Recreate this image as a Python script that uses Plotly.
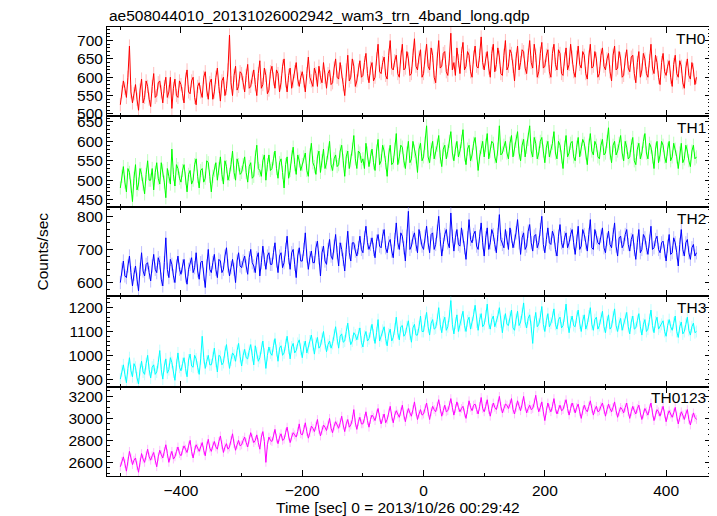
import plotly.graph_objects as go

T_START = -500
T_STEP = 2.5

th0 = [525, 560, 590, 570, 545, 600, 685, 560, 530, 555, 580, 540, 510, 565, 595, 530, 545, 590, 575, 540,
       520, 575, 610, 545, 550, 585, 590, 560, 530, 575, 600, 545, 560, 600, 515, 570, 595, 550, 545, 590,
       580, 555, 530, 595, 620, 560, 555, 590, 600, 545, 525, 575, 585, 560, 545, 600, 615, 565, 540, 585,
       595, 540, 560, 600, 625, 575, 535, 590, 600, 550, 570, 620, 715, 585, 550, 605, 630, 565, 575, 615,
       610, 585, 560, 605, 635, 570, 575, 600, 620, 580, 550, 610, 645, 570, 580, 625, 605, 555, 565, 615,
       630, 595, 570, 620, 610, 560, 585, 630, 650, 590, 560, 605, 625, 570, 590, 615, 640, 595, 575, 600,
       615, 590, 560, 610, 655, 600, 590, 575, 625, 610, 575, 630, 600, 585, 640, 600, 570, 610, 620, 580,
       585, 625, 650, 600, 595, 640, 615, 580, 550, 620, 660, 590, 600, 650, 630, 575, 590, 620, 645, 600,
       605, 640, 665, 610, 585, 625, 640, 590, 600, 650, 690, 615, 610, 640, 655, 605, 595, 660, 700, 625,
       620, 645, 660, 610, 600, 655, 690, 620, 625, 670, 650, 605, 610, 660, 705, 630, 620, 655, 675, 600,
       610, 655, 690, 630, 620, 680, 660, 600, 585, 650, 700, 625, 630, 665, 670, 615, 605, 650, 720, 620,
       640, 605, 680, 645, 610, 665, 695, 620, 630, 670, 660, 615, 600, 655, 685, 630, 625, 660, 710, 640,
       620, 650, 670, 625, 600, 665, 690, 615, 635, 680, 655, 610, 605, 660, 700, 620, 630, 675, 665, 630,
       590, 650, 685, 620, 640, 675, 670, 625, 610, 660, 700, 640, 625, 690, 660, 600, 615, 665, 695, 625,
       630, 660, 675, 615, 600, 665, 690, 635, 620, 675, 665, 610, 605, 650, 680, 620, 635, 690, 655, 615,
       600, 655, 685, 635, 625, 670, 660, 610, 595, 655, 690, 625, 630, 670, 650, 600, 610, 660, 680, 630,
       620, 650, 665, 615, 590, 660, 685, 620, 625, 670, 650, 600, 605, 650, 675, 625, 615, 655, 660, 610,
       585, 640, 670, 600, 620, 665, 650, 610, 600, 645, 690, 625, 610, 660, 640, 600, 580, 640, 665, 615,
       605, 630, 645, 600, 575, 635, 660, 610, 600, 645, 630, 585, 570, 625, 650, 605, 595, 640, 620, 580,
       600]

th1 = [480, 510, 535, 495, 470, 530, 520, 485, 445, 505, 540, 475, 490, 530, 515, 490, 465, 515, 550, 500,
       500, 530, 475, 520, 545, 505, 490, 545, 525, 495, 455, 530, 510, 490, 580, 515, 485, 540, 530, 505,
       495, 525, 540, 505, 470, 515, 525, 490, 500, 540, 555, 510, 480, 525, 530, 495, 505, 550, 545, 510,
       470, 510, 525, 545, 500, 530, 560, 515, 490, 550, 535, 500, 515, 540, 575, 520, 500, 555, 540, 515,
       520, 540, 560, 520, 495, 535, 545, 505, 510, 560, 590, 530, 525, 510, 550, 565, 500, 540, 565, 525,
       530, 555, 575, 530, 505, 545, 555, 520, 480, 540, 560, 505, 525, 560, 585, 540, 515, 565, 550, 525,
       540, 560, 570, 525, 510, 565, 595, 545, 535, 515, 560, 575, 520, 550, 580, 530, 545, 570, 600, 540,
       525, 555, 565, 535, 540, 575, 590, 550, 510, 560, 575, 530, 550, 580, 615, 555, 530, 575, 570, 545,
       555, 530, 595, 570, 535, 560, 580, 545, 525, 575, 605, 540, 550, 590, 575, 545, 510, 565, 590, 540,
       545, 580, 620, 540, 560, 590, 585, 550, 530, 570, 600, 545, 555, 600, 575, 560, 520, 580, 595, 550,
       560, 595, 640, 560, 545, 580, 600, 555, 570, 590, 615, 560, 535, 580, 590, 555, 575, 600, 625, 570,
       550, 580, 600, 560, 575, 600, 630, 565, 540, 580, 590, 550, 565, 595, 610, 570, 525, 560, 585, 600,
       560, 590, 620, 555, 575, 600, 595, 560, 545, 580, 640, 565, 570, 590, 600, 570, 555, 595, 615, 560,
       580, 600, 625, 570, 550, 590, 605, 560, 585, 605, 640, 575, 560, 610, 595, 555, 570, 600, 610, 575,
       545, 585, 600, 560, 575, 595, 625, 570, 555, 600, 590, 560, 530, 585, 615, 560, 570, 595, 600, 560,
       550, 585, 610, 560, 580, 605, 595, 570, 540, 590, 620, 575, 565, 600, 590, 560, 555, 590, 605, 565,
       570, 600, 635, 570, 545, 590, 600, 565, 575, 595, 615, 570, 550, 600, 585, 555, 560, 590, 610, 550,
       540, 580, 595, 555, 570, 600, 620, 570, 555, 595, 585, 560, 530, 580, 600, 545, 565, 600, 590, 560,
       545, 580, 600, 550, 560, 595, 580, 560, 530, 570, 595, 545, 555, 590, 575, 550, 535, 575, 590, 555,
       560]

th2 = [600, 640, 665, 620, 615, 650, 680, 630, 590, 625, 650, 610, 575, 640, 690, 635, 620, 655, 660, 630,
       605, 650, 685, 640, 630, 675, 660, 610, 590, 660, 735, 640, 615, 670, 655, 620, 600, 650, 680, 640,
       625, 650, 670, 620, 595, 640, 655, 675, 630, 645, 690, 635, 610, 660, 665, 625, 585, 650, 700, 640,
       630, 660, 685, 640, 615, 670, 665, 630, 640, 680, 705, 650, 620, 645, 670, 640, 600, 665, 690, 650,
       645, 665, 680, 650, 625, 675, 700, 660, 650, 630, 675, 690, 620, 660, 710, 670, 640, 680, 690, 655,
       655, 690, 720, 665, 630, 680, 690, 645, 660, 700, 740, 675, 640, 690, 700, 655, 615, 680, 705, 665,
       665, 700, 750, 680, 640, 675, 695, 660, 660, 705, 725, 675, 620, 690, 710, 665, 655, 700, 730, 680,
       670, 710, 745, 690, 650, 720, 700, 670, 635, 700, 755, 690, 665, 720, 720, 695, 680, 705, 740, 700,
       690, 735, 770, 720, 700, 715, 735, 700, 675, 725, 745, 710, 705, 740, 760, 705, 690, 720, 730, 695,
       675, 730, 780, 720, 700, 750, 740, 705, 665, 740, 815, 700, 710, 735, 750, 715, 690, 760, 735, 710,
       700, 740, 770, 720, 690, 745, 750, 700, 715, 755, 800, 730, 680, 715, 745, 760, 720, 705, 810, 740,
       695, 735, 760, 715, 710, 765, 740, 705, 670, 735, 790, 730, 720, 745, 755, 710, 700, 740, 780, 720,
       680, 735, 765, 700, 720, 760, 745, 715, 690, 745, 805, 730, 715, 705, 760, 735, 700, 765, 740, 705,
       725, 750, 790, 720, 685, 735, 750, 700, 710, 755, 775, 720, 695, 740, 745, 705, 720, 760, 800, 715,
       690, 730, 765, 720, 715, 755, 740, 700, 680, 740, 775, 720, 705, 735, 750, 705, 720, 745, 760, 720,
       685, 725, 770, 700, 710, 760, 745, 720, 695, 745, 790, 705, 700, 760, 735, 720, 715, 740, 765, 705,
       690, 730, 755, 715, 705, 745, 780, 710, 680, 735, 740, 705, 715, 745, 760, 715, 695, 730, 745, 700,
       670, 720, 760, 690, 700, 745, 735, 705, 685, 725, 770, 700, 705, 730, 740, 700, 690, 720, 725, 695,
       665, 710, 745, 685, 690, 735, 720, 690, 650, 715, 760, 700, 680, 720, 730, 690, 670, 705, 715, 680,
       690]

th3 = [900, 935, 960, 920, 885, 945, 990, 935, 910, 965, 950, 905, 880, 940, 975, 930, 920, 965, 1000, 940,
       905, 950, 960, 920, 930, 970, 1020, 940, 900, 955, 985, 925, 940, 990, 970, 930, 895, 960, 1010, 950,
       935, 965, 990, 945, 910, 980, 1005, 955, 950, 1000, 985, 950, 920, 985, 1080, 990, 945, 975, 1000, 960,
       960, 990, 1030, 975, 930, 1000, 995, 960, 970, 1015, 1045, 990, 945, 980, 1010, 1000, 975, 1020, 1050, 995,
       955, 1000, 1025, 990, 985, 1020, 1045, 1000, 960, 1040, 1010, 975, 990, 1030, 1060, 1005, 945, 1000, 1035, 1010,
       1000, 1040, 1070, 1020, 975, 1030, 1040, 1000, 1010, 1045, 1080, 1030, 985, 1035, 1050, 1010, 1020, 1050, 1065, 1025,
       990, 1035, 1060, 1010, 1030, 1060, 1085, 1045, 1005, 1050, 1075, 1030, 1040, 1070, 1100, 1050, 1015, 1045, 1060, 1030,
       1050, 1085, 1120, 1070, 1030, 1080, 1090, 1055, 1060, 1100, 1135, 1080, 1045, 1060, 1095, 1085, 1065, 1090, 1115, 1055,
       1035, 1080, 1100, 1060, 1070, 1100, 1130, 1085, 1050, 1095, 1150, 1060, 1080, 1105, 1120, 1070, 1040, 1090, 1110, 1060,
       1075, 1110, 1160, 1095, 1065, 1120, 1125, 1080, 1090, 1120, 1145, 1090, 1055, 1115, 1130, 1085, 1085, 1120, 1165, 1100,
       1100, 1145, 1180, 1120, 1085, 1135, 1150, 1110, 1115, 1150, 1200, 1130, 1095, 1140, 1160, 1105, 1120, 1165, 1230, 1130,
       1090, 1135, 1170, 1100, 1125, 1150, 1185, 1125, 1100, 1145, 1160, 1110, 1135, 1170, 1210, 1140, 1105, 1150, 1175, 1120,
       1130, 1165, 1215, 1135, 1110, 1150, 1165, 1120, 1140, 1165, 1200, 1140, 1095, 1145, 1175, 1130, 1125, 1160, 1190, 1115,
       1105, 1150, 1185, 1125, 1140, 1175, 1220, 1140, 1115, 1155, 1170, 1120, 1050, 1140, 1180, 1120, 1130, 1160, 1205, 1130,
       1100, 1145, 1175, 1120, 1135, 1160, 1195, 1130, 1110, 1150, 1160, 1115, 1125, 1165, 1215, 1140, 1095, 1140, 1165, 1125,
       1120, 1160, 1190, 1135, 1100, 1145, 1170, 1110, 1130, 1165, 1200, 1130, 1105, 1150, 1160, 1110, 1125, 1155, 1185, 1120,
       1095, 1140, 1170, 1110, 1120, 1160, 1195, 1125, 1100, 1135, 1155, 1105, 1130, 1155, 1180, 1120, 1090, 1140, 1165, 1110,
       1115, 1145, 1175, 1120, 1085, 1130, 1150, 1100, 1110, 1150, 1190, 1125, 1095, 1140, 1160, 1110, 1120, 1130, 1145, 1100,
       1080, 1125, 1150, 1120, 1105, 1135, 1165, 1100, 1075, 1120, 1140, 1090, 1100, 1130, 1160, 1105, 1085, 1120, 1135, 1095,
       1100]

th0123 = [2560, 2610, 2650, 2590, 2520, 2610, 2700, 2640, 2580, 2620, 2640, 2570, 2510, 2600, 2680, 2630, 2600, 2660, 2720, 2650,
          2620, 2660, 2690, 2620, 2560, 2650, 2710, 2670, 2640, 2700, 2760, 2680, 2600, 2660, 2700, 2630, 2650, 2700, 2740, 2680,
          2660, 2710, 2750, 2720, 2690, 2750, 2800, 2700, 2640, 2710, 2760, 2730, 2700, 2740, 2780, 2710, 2660, 2750, 2810, 2730,
          2700, 2750, 2790, 2740, 2720, 2790, 2840, 2760, 2690, 2740, 2770, 2720, 2740, 2800, 2860, 2770, 2710, 2760, 2800, 2750,
          2760, 2800, 2830, 2780, 2740, 2810, 2870, 2820, 2780, 2800, 2850, 2780, 2720, 2830, 2880, 2790, 2600, 2760, 2830, 2800,
          2790, 2840, 2900, 2820, 2770, 2830, 2860, 2800, 2810, 2870, 2920, 2840, 2780, 2830, 2870, 2850, 2830, 2880, 2950, 2860,
          2850, 2900, 2960, 2880, 2820, 2870, 2930, 2910, 2880, 2930, 2990, 2900, 2840, 2890, 2940, 2920, 2890, 2940, 3000, 2910,
          2870, 2930, 2970, 2940, 2910, 2960, 3020, 2940, 2880, 2950, 2990, 2920, 2940, 2990, 3080, 2960, 2900, 2970, 3010, 2950,
          2950, 3000, 3060, 2980, 2920, 2990, 3030, 3010, 2980, 3040, 3090, 3010, 2950, 3000, 3040, 2960, 2990, 3050, 3110, 3020,
          2960, 3030, 3070, 3040, 3010, 3060, 3120, 3030, 2970, 3040, 3090, 3050, 3020, 3080, 3150, 3060, 2990, 3040, 3080, 3030,
          3040, 3090, 3140, 3060, 2990, 3060, 3110, 3080, 3060, 3110, 3170, 3090, 3020, 3070, 3120, 3060, 3070, 3120, 3180, 3100,
          3030, 3090, 3150, 3100, 3060, 3090, 3110, 3050, 3000, 3080, 3160, 3100, 3070, 3120, 3130, 3080, 3040, 3110, 3190, 3090,
          3060, 3110, 3170, 3080, 3020, 3090, 3140, 3100, 3080, 3130, 3200, 3110, 3050, 3090, 3130, 3120, 3090, 3130, 3180, 3080,
          3040, 3100, 3160, 3110, 3070, 3130, 3200, 3110, 3050, 3090, 3120, 3080, 3090, 3140, 3210, 3120, 3060, 3100, 3150, 3060,
          2980, 3070, 3140, 3090, 3060, 3110, 3180, 3090, 3040, 3080, 3120, 3070, 3080, 3130, 3170, 3090, 3030, 3090, 3140, 3100,
          3050, 3100, 3130, 3060, 3000, 3070, 3120, 3080, 3060, 3110, 3160, 3090, 3030, 3080, 3110, 3060, 3070, 3110, 3140, 3080,
          3020, 3080, 3130, 3090, 3060, 3100, 3150, 3070, 3010, 3060, 3100, 3080, 3050, 3100, 3140, 3060, 3000, 3060, 3110, 3070,
          3040, 3090, 3120, 3050, 2990, 3040, 3090, 3060, 3030, 3090, 3140, 3050, 2980, 3030, 3080, 3060, 3020, 3070, 3110, 3040,
          2970, 3030, 3070, 3040, 3010, 3050, 3100, 3020, 2950, 3010, 3060, 3030, 2990, 3040, 3080, 2990, 2940, 3000, 3050, 3010,
          2990]

series_names = ["TH0", "TH1", "TH2", "TH3", "TH0123"]
series_values = [th0, th1, th2, th3, th0123]
series_colors = ["#ff0000", "#00ff00", "#0000ff", "#00ffff", "#ff00ff"]
error_colors = ["rgba(255,110,110,0.45)", "rgba(110,255,110,0.45)", "rgba(110,110,255,0.45)",
                "rgba(110,255,255,0.45)", "rgba(255,110,255,0.45)"]
error_sizes = [18, 17, 20, 25, 40]
y_ranges = [[493, 737], [431, 664], [558, 828], [869, 1247], [2476, 3290]]
y_major = [50, 50, 100, 100, 200]
y_minor = [10, 10, 20, 20, 50]
domains = [[0.8007, 1.0], [0.5991, 0.8007], [0.3998, 0.5991], [0.1993, 0.3998], [0.0, 0.1993]]

n = len(th0)
times = [T_START + T_STEP * i for i in range(n)]

FONT = "Liberation Sans, Arial, Helvetica, sans-serif"
FS = 15.5
# page body has an 8px margin: figure origin sits at (8, 8)
FIG_W, FIG_H = 709, 508
PLOT_L, PLOT_R, PLOT_T, PLOT_B = 99, 703.5, 19, 468

fig = go.Figure()

layout = dict(
    width=FIG_W, height=FIG_H,
    margin=dict(l=PLOT_L, r=FIG_W - PLOT_R, t=PLOT_T, b=FIG_H - PLOT_B, pad=0),
    paper_bgcolor="white", plot_bgcolor="white",
    showlegend=False,
    font=dict(family=FONT, size=FS, color="black"),
)

for i, (name, vals, col) in enumerate(zip(series_names, series_values, series_colors)):
    k = i + 1
    xa = "x" if k == 1 else f"x{k}"
    ya = "y" if k == 1 else f"y{k}"
    fig.add_trace(go.Scatter(
        x=times, y=vals, mode="lines", name=name,
        line=dict(color=col, width=1),
        error_y=dict(type="constant", value=error_sizes[i], color=error_colors[i],
                     thickness=1, width=0),
        xaxis=xa, yaxis=ya, hoverinfo="skip",
    ))
    xkey = "xaxis" if k == 1 else f"xaxis{k}"
    ykey = "yaxis" if k == 1 else f"yaxis{k}"
    layout[xkey] = dict(
        domain=[0, 1], anchor=ya, range=[-522, 474],
        showline=True, linecolor="black", linewidth=1, mirror="allticks",
        ticks="inside", ticklen=6, tickcolor="black", dtick=200, tick0=0,
        minor=dict(dtick=100, ticks="inside", ticklen=3, tickcolor="black"),
        showgrid=False, zeroline=False,
        showticklabels=(k == 5),
        tickfont=dict(size=FS),
    )
    layout[ykey] = dict(
        domain=domains[i], anchor=xa, range=y_ranges[i],
        showline=True, linecolor="black", linewidth=1, mirror="allticks",
        ticks="inside", ticklen=6, tickcolor="black", dtick=y_major[i], tick0=0,
        minor=dict(dtick=y_minor[i], ticks="inside", ticklen=3, tickcolor="black"),
        showgrid=False, zeroline=False,
        tickfont=dict(size=FS),
    )

for k in range(1, 5):
    key = "xaxis" if k == 1 else f"xaxis{k}"
    layout[key]["matches"] = "x5"

fig.update_layout(**layout)

plot_w = PLOT_R - PLOT_L
annotations = [
    dict(text="ae508044010_20131026002942_wam3_trn_4band_long.qdp", xref="paper", yref="paper",
         x=0.0, y=1.0, xanchor="left", yanchor="bottom", yshift=1, showarrow=False,
         font=dict(size=FS)),
    dict(text="Counts/sec", xref="paper", yref="paper", x=0, y=0.5, xshift=-65,
         textangle=-90, showarrow=False, font=dict(size=FS), xanchor="center", yanchor="middle"),
    dict(text="Time [sec] 0 = 2013/10/26 00:29:42", xref="paper", yref="paper",
         x=(398 - 107) / plot_w, y=0, yshift=-31, xanchor="center", yanchor="middle",
         showarrow=False, font=dict(size=FS)),
]
for i, name in enumerate(series_names):
    annotations.append(dict(text=name, xref="paper", yref="paper", x=1.0, xshift=-3,
                            y=domains[i][1], yshift=-11, xanchor="right", yanchor="middle",
                            showarrow=False, font=dict(size=FS)))
fig.update_layout(annotations=annotations)

fig.write_html("out.html")
